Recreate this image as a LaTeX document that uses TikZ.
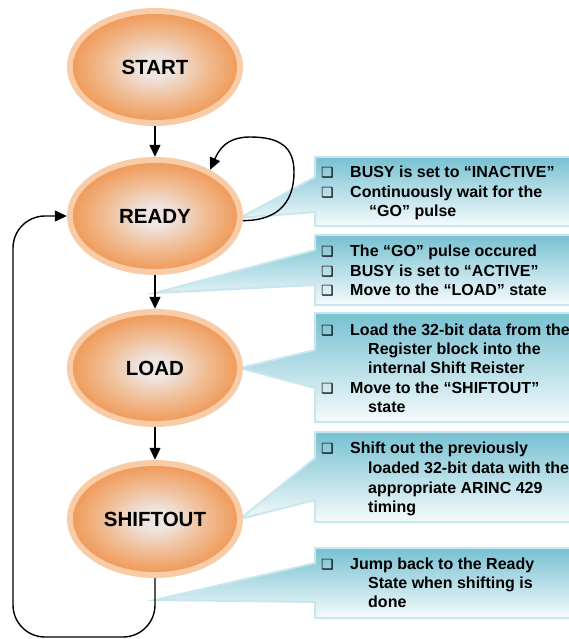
\documentclass[tikz,border=0pt]{standalone}
\usepackage{fontspec}
\setmainfont{Liberation Sans}
\newfontfamily\symfont{DejaVu Sans}
\usetikzlibrary{shapes.geometric,arrows.meta}

\definecolor{rimc}{RGB}{249,204,168}
\definecolor{orangec}{RGB}{240,156,92}
\definecolor{midc}{RGB}{240,190,150}
\definecolor{glowc}{RGB}{238,228,224}
\definecolor{boxtop}{RGB}{118,193,210}
\definecolor{boxbot}{RGB}{246,251,252}
\definecolor{boxedge}{RGB}{200,230,238}

\pgfdeclareradialshading{stateglow}{\pgfpoint{0bp}{0bp}}{color(0bp)=(glowc); color(5bp)=(glowc); color(15bp)=(midc); color(25bp)=(orangec); color(50bp)=(orangec)}

\begin{document}
\begin{tikzpicture}[x=1pt,y=-1pt,
  state/.style={ellipse, minimum width=176pt, minimum height=118pt, inner sep=0pt,
    font=\fontsize{20.5}{24}\selectfont\bfseries},
  arrow/.style={line width=1.4pt, -{Triangle[length=12pt,width=11pt]}},
  callout/.style={draw=boxedge, line width=2pt, top color=boxtop, bottom color=boxbot, line join=miter},
  txt/.style={anchor=base west, inner sep=0pt, font=\fontsize{16}{19}\selectfont\bfseries, text=black},
  chk/.style={anchor=base west, inner sep=0pt, font=\symfont\fontsize{14}{16}\selectfont, text=black}]

\useasboundingbox (0,0) rectangle (569,639);

% callout boxes with their pointers
\path[callout] (315,157) -- (575,157) -- (575,226) -- (315,226) -- (315,212) -- (240,218) -- (315,177) -- cycle;
\path[callout] (315,235) -- (575,235) -- (575,305) -- (315,305) -- (315,285) -- (155,293) -- (315,250) -- cycle;
\path[callout] (315,313) -- (575,313) -- (575,422) -- (315,422) -- (315,388) -- (240,368) -- (315,350) -- cycle;
\path[callout] (315,432) -- (575,432) -- (575,522) -- (315,522) -- (315,500) -- (240,519) -- (315,458) -- cycle;
\path[callout] (315,548) -- (575,548) -- (575,618) -- (315,618) -- (315,602) -- (155,600) -- (315,563) -- cycle;

% state bodies: light rim and glowing core
\foreach \y in {67,216,368,519} {
  \fill[rimc] (155,\y) ellipse [x radius=88, y radius=59];
  \shade[shading=stateglow] (155,\y) ellipse [x radius=82, y radius=53];
}

\node[state] (start)    at (155,67)  {START};
\node[state] (ready)    at (155,216) {READY};
\node[state] (load)     at (155,368) {LOAD};
\node[state] (shiftout) at (155,519) {SHIFTOUT};

% transitions
\draw[arrow] (start) -- (ready);
\draw[arrow] (ready) -- (load);
\draw[arrow] (load) -- (shiftout);
\draw[arrow] (ready.-3) .. controls +(40,0) and +(0,25) .. (294,172)
  .. controls +(0,-25) and +(30,0) .. (250,137)
  .. controls +(-25,0) and +(8,-18) .. (ready.40);
\draw[arrow, rounded corners=32pt] (shiftout.south) -- (155,637) -- (13,637) -- (13,216) -- (ready.west);

% notes
\node[chk] (c1a) at (321,177) {❑};
\node[txt] (t1a) at (350,177) {BUSY is set to “INACTIVE”};
\node[chk] (c1b) at (321,197) {❑};
\node[txt] (t1b) at (350,197) {Continuously wait for the};
\node[txt] (t1c) at (369,216) {“GO” pulse};

\node[chk] (c2a) at (321,256) {❑};
\node[txt] (t2a) at (350,256) {The “GO” pulse occured};
\node[chk] (c2b) at (321,276) {❑};
\node[txt] (t2b) at (350,276) {BUSY is set to “ACTIVE”};
\node[chk] (c2c) at (321,295) {❑};
\node[txt] (t2c) at (350,295) {Move to the “LOAD” state};

\node[chk] (c3a) at (321,335) {❑};
\node[txt] (t3a) at (350,335) {Load the 32-bit data from the};
\node[txt] (t3b) at (368,354) {Register block into the};
\node[txt] (t3c) at (368,373) {internal Shift Reister};
\node[chk] (c3d) at (321,393) {❑};
\node[txt] (t3d) at (350,393) {Move to the “SHIFTOUT”};
\node[txt] (t3e) at (368,412) {state};

\node[chk] (c4a) at (321,453) {❑};
\node[txt] (t4a) at (350,453) {Shift out the previously};
\node[txt] (t4b) at (368,473) {loaded 32-bit data with the};
\node[txt] (t4c) at (368,493) {appropriate ARINC 429};
\node[txt] (t4d) at (368,512) {timing};

\node[chk] (c5a) at (321,569) {❑};
\node[txt] (t5a) at (350,569) {Jump back to the Ready};
\node[txt] (t5b) at (368,588) {State when shifting is};
\node[txt] (t5c) at (368,607) {done};
\end{tikzpicture}
\end{document}
